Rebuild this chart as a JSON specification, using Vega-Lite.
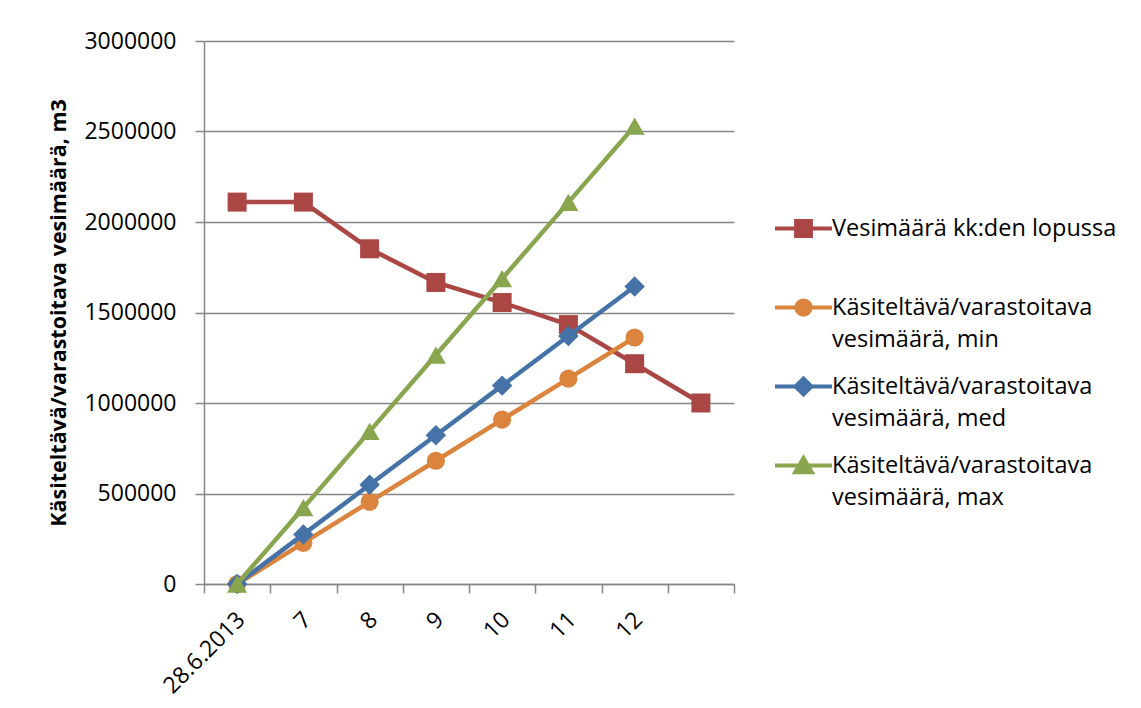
{
  "$schema": "https://vega.github.io/schema/vega-lite/v6.json",
  "width": 530,
  "height": 543,
  "autosize": {"type": "none"},
  "padding": {"left": 204, "top": 41, "right": 407, "bottom": 124},
  "background": "white",
  "config": {
    "view": {"stroke": null},
    "font": "Open Sans",
    "axis": {
      "labelFont": "Open Sans",
      "labelFontSize": 23,
      "labelColor": "#000000",
      "domainColor": "#868686",
      "domainWidth": 1.5,
      "tickColor": "#868686",
      "tickWidth": 1.5,
      "tickSize": 9,
      "gridColor": "#868686",
      "gridWidth": 1.5
    },
    "legend": {
      "labelFont": "Open Sans",
      "labelFontSize": 23.5,
      "labelColor": "#000000"
    }
  },
  "data": {
    "values": [
      {"kuukausi": "28.6.2013", "sarja": "Vesimäärä kk:den lopussa", "m3": 2110000},
      {"kuukausi": "7", "sarja": "Vesimäärä kk:den lopussa", "m3": 2110000},
      {"kuukausi": "8", "sarja": "Vesimäärä kk:den lopussa", "m3": 1852000},
      {"kuukausi": "9", "sarja": "Vesimäärä kk:den lopussa", "m3": 1666000},
      {"kuukausi": "10", "sarja": "Vesimäärä kk:den lopussa", "m3": 1555000},
      {"kuukausi": "11", "sarja": "Vesimäärä kk:den lopussa", "m3": 1433000},
      {"kuukausi": "12", "sarja": "Vesimäärä kk:den lopussa", "m3": 1217000},
      {"kuukausi": "", "sarja": "Vesimäärä kk:den lopussa", "m3": 1000000},
      {"kuukausi": "28.6.2013", "sarja": "Käsiteltävä/varastoitava vesimäärä, min", "m3": 0},
      {"kuukausi": "7", "sarja": "Käsiteltävä/varastoitava vesimäärä, min", "m3": 227000},
      {"kuukausi": "8", "sarja": "Käsiteltävä/varastoitava vesimäärä, min", "m3": 454000},
      {"kuukausi": "9", "sarja": "Käsiteltävä/varastoitava vesimäärä, min", "m3": 681000},
      {"kuukausi": "10", "sarja": "Käsiteltävä/varastoitava vesimäärä, min", "m3": 908000},
      {"kuukausi": "11", "sarja": "Käsiteltävä/varastoitava vesimäärä, min", "m3": 1135000},
      {"kuukausi": "12", "sarja": "Käsiteltävä/varastoitava vesimäärä, min", "m3": 1362000},
      {"kuukausi": "28.6.2013", "sarja": "Käsiteltävä/varastoitava vesimäärä, med", "m3": 0},
      {"kuukausi": "7", "sarja": "Käsiteltävä/varastoitava vesimäärä, med", "m3": 274000},
      {"kuukausi": "8", "sarja": "Käsiteltävä/varastoitava vesimäärä, med", "m3": 548000},
      {"kuukausi": "9", "sarja": "Käsiteltävä/varastoitava vesimäärä, med", "m3": 822000},
      {"kuukausi": "10", "sarja": "Käsiteltävä/varastoitava vesimäärä, med", "m3": 1096000},
      {"kuukausi": "11", "sarja": "Käsiteltävä/varastoitava vesimäärä, med", "m3": 1370000},
      {"kuukausi": "12", "sarja": "Käsiteltävä/varastoitava vesimäärä, med", "m3": 1644000},
      {"kuukausi": "28.6.2013", "sarja": "Käsiteltävä/varastoitava vesimäärä, max", "m3": 0},
      {"kuukausi": "7", "sarja": "Käsiteltävä/varastoitava vesimäärä, max", "m3": 421700},
      {"kuukausi": "8", "sarja": "Käsiteltävä/varastoitava vesimäärä, max", "m3": 843300},
      {"kuukausi": "9", "sarja": "Käsiteltävä/varastoitava vesimäärä, max", "m3": 1265000},
      {"kuukausi": "10", "sarja": "Käsiteltävä/varastoitava vesimäärä, max", "m3": 1686700},
      {"kuukausi": "11", "sarja": "Käsiteltävä/varastoitava vesimäärä, max", "m3": 2108300},
      {"kuukausi": "12", "sarja": "Käsiteltävä/varastoitava vesimäärä, max", "m3": 2530000}
    ]
  },
  "encoding": {
    "x": {
      "field": "kuukausi",
      "type": "nominal",
      "sort": ["28.6.2013", "7", "8", "9", "10", "11", "12", ""],
      "scale": {
        "type": "band",
        "domain": ["28.6.2013", "7", "8", "9", "10", "11", "12", ""],
        "paddingInner": 0,
        "paddingOuter": 0
      },
      "axis": {
        "title": null,
        "tickBand": "extent",
        "labelAngle": -45,
        "labelPadding": 15,
        "labelOffset": -4,
        "grid": false
      }
    },
    "y": {
      "field": "m3",
      "type": "quantitative",
      "scale": {"domain": [0, 3000000], "nice": false, "zero": true},
      "axis": {
        "title": "Käsiteltävä/varastoitava vesimäärä, m3",
        "titleFont": "Open Sans",
        "titleFontSize": 21.5,
        "titleFontWeight": "bold",
        "titleColor": "#000000",
        "titlePadding": 13,
        "values": [0, 500000, 1000000, 1500000, 2000000, 2500000, 3000000],
        "format": "d",
        "labelPadding": 19,
        "grid": true
      }
    },
    "color": {
      "field": "sarja",
      "type": "nominal",
      "scale": {
        "domain": [
          "Vesimäärä kk:den lopussa",
          "Käsiteltävä/varastoitava vesimäärä, min",
          "Käsiteltävä/varastoitava vesimäärä, med",
          "Käsiteltävä/varastoitava vesimäärä, max"
        ],
        "range": ["#AA4643", "#DB843D", "#4572A7", "#89A54E"]
      },
      "legend": {
        "title": null,
        "orient": "none",
        "legendX": 569,
        "legendY": 157,
        "padding": 0,
        "symbolSize": 3249,
        "labelOffset": -2,
        "labelLimit": 400,
        "rowPadding": 5,
        "labelExpr": "datum.label == 'Vesimäärä kk:den lopussa' ? [datum.label, ' '] : [slice(datum.label, 0, 24), slice(datum.label, 25)]",
        "encode": {
          "symbols": {
            "update": {
              "size": {"value": 3249},
              "strokeWidth": {"value": 4},
              "opacity": {"value": 1},
              "fill": {"scale": "color", "field": "value"},
              "stroke": {"scale": "color", "field": "value"},
              "shape": {"signal": "datum.value == 'Vesimäärä kk:den lopussa' ? 'M-1,0L1,0M-0.26,-0.26L0.26,-0.26L0.26,0.26L-0.26,0.26Z' : datum.value == 'Käsiteltävä/varastoitava vesimäärä, min' ? 'M-1,0L1,0M-0.25,0A0.25,0.25,0,1,0,0.25,0A0.25,0.25,0,1,0,-0.25,0Z' : datum.value == 'Käsiteltävä/varastoitava vesimäärä, med' ? 'M-1,0L1,0M0,-0.28L0.28,0L0,0.28L-0.28,0Z' : 'M-1,0L1,0M0,-0.26L0.29,0.24L-0.29,0.24Z'"}
            }
          },
          "labels": {
            "update": {"lineHeight": {"value": 32}}
          }
        }
      }
    }
  },
  "layer": [
    {
      "transform": [{"filter": {"field": "sarja", "equal": "Vesimäärä kk:den lopussa"}}],
      "mark": {"type": "line", "strokeWidth": 4.5, "strokeJoin": "round", "strokeCap": "round"}
    },
    {
      "transform": [{"filter": {"field": "sarja", "equal": "Vesimäärä kk:den lopussa"}}],
      "mark": {"type": "point", "shape": "square", "size": 361, "filled": true, "opacity": 1}
    },
    {
      "transform": [{"filter": {"field": "sarja", "equal": "Käsiteltävä/varastoitava vesimäärä, min"}}],
      "mark": {"type": "line", "strokeWidth": 4.5, "strokeJoin": "round", "strokeCap": "round"}
    },
    {
      "transform": [{"filter": {"field": "sarja", "equal": "Käsiteltävä/varastoitava vesimäärä, min"}}],
      "mark": {"type": "point", "shape": "circle", "size": 330, "filled": true, "opacity": 1}
    },
    {
      "transform": [{"filter": {"field": "sarja", "equal": "Käsiteltävä/varastoitava vesimäärä, med"}}],
      "mark": {"type": "line", "strokeWidth": 4.5, "strokeJoin": "round", "strokeCap": "round"}
    },
    {
      "transform": [{"filter": {"field": "sarja", "equal": "Käsiteltävä/varastoitava vesimäärä, med"}}],
      "mark": {"type": "point", "shape": "diamond", "size": 420, "filled": true, "opacity": 1}
    },
    {
      "transform": [{"filter": {"field": "sarja", "equal": "Käsiteltävä/varastoitava vesimäärä, max"}}],
      "mark": {"type": "line", "strokeWidth": 4.5, "strokeJoin": "round", "strokeCap": "round"}
    },
    {
      "transform": [{"filter": {"field": "sarja", "equal": "Käsiteltävä/varastoitava vesimäärä, max"}}],
      "mark": {"type": "point", "shape": "triangle-up", "size": 400, "filled": true, "opacity": 1}
    }
  ]
}
